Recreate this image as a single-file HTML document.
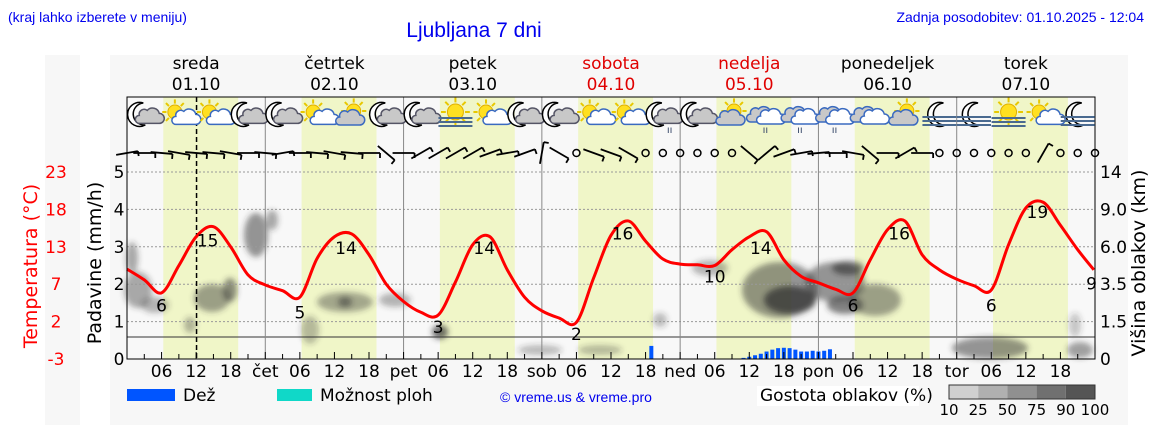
<!DOCTYPE html>
<html><head><meta charset="utf-8"><style>
body{margin:0;background:#fff;width:1152px;height:443px;overflow:hidden;font-family:"DejaVu Sans","Liberation Sans",sans-serif}
svg{display:block}
</style></head><body>
<svg id="c" width="1152" height="443" xmlns="http://www.w3.org/2000/svg">
<defs><filter id="bl" x="-50%" y="-50%" width="200%" height="200%"><feGaussianBlur stdDeviation="3"/></filter></defs>
<rect x="45" y="55" width="35" height="370" fill="#f7f7f7"/>
<rect x="110" y="55" width="1018" height="370" fill="#f7f7f7"/>
<text x="8" y="22" font-family="Liberation Sans" font-size="14" fill="#0000ee">(kraj lahko izberete v meniju)</text>
<text x="474" y="37" text-anchor="middle" font-family="Liberation Sans" font-size="21" fill="#0000ee">Ljubljana 7 dni</text>
<text x="1144" y="22" text-anchor="end" font-family="Liberation Sans" font-size="14" fill="#0000ee">Zadnja posodobitev: 01.10.2025 - 12:04</text>
<g id="g"></g>
</svg>
<script>
const dayNames=["sreda","četrtek","petek","sobota","nedelja","ponedeljek","torek"];
const dates=["01.10","02.10","03.10","04.10","05.10","06.10","07.10"];
const dayAbbr=["čet","pet","sob","ned","pon","tor"];
const tempHours=[0,3,6,9,12,15,18,21,24,27,30,33,36,39,42,45,48,51,54,57,60,63,66,69,72,75,78,81,84,87,90,93,96,99,102,105,108,111,114,117,120,123,126,129,132,135,138,141,144,147,150,153,156,159,162,165,167.8];
const tempValues=[9.5,8,6.2,10,14,15.4,12.6,8.7,7.3,6.5,5.6,11,14,14.4,11.5,7.4,5,3.5,3.1,7.7,12.9,14,9.4,5.6,3.7,2.7,2.1,8.3,14.2,16.2,13.4,10.9,10.2,10.1,10,12.2,14,14.7,10.8,8.5,7.6,6.7,6.2,10.8,15,16.2,11.5,9.4,8.1,7.2,6.6,12.9,18,18.8,15.6,12.2,9.4];
const tempLabelHours=[6,14,30,38,54,62,78,86,102,110,126,134,150,158,167.4];
const tempLabelValues=[6,15,5,14,3,14,2,16,10,14,6,16,6,19,9];
const tempLabelTexts=["6","15","5","14","3","14","2","16","10","14","6","16","6","19","9"];
const rainHours=[91,107,108,109,110,111,112,113,114,115,116,117,118,119,120,121,122];
const rainValues=[0.35,0.03,0.06,0.1,0.14,0.2,0.25,0.29,0.3,0.29,0.25,0.2,0.2,0.22,0.2,0.22,0.26];
const iconTypes=["nc","sc","sc","nc","nc","sc","sd","nc","nc","fs","sc","nc","nc","sc","sc","nr","nc","sd","cr","cr","cr","cl","sd","fn","fn","fs","sc","fn"];
const windSpeed=[1,2,2,2,2,2,2,2,2,2,2,2,2,2,2,2,2,2,3,3,3,3,2,2,1,2,0,2,2,2,0,0,0,0,0,0,2,2,2,2,2,2,2,2,2,2,2,0,0,0,0,0,0,1,0,0,0,0,0,0,0,0,0,0,0,0];
const windDir=[80,90,95,100,95,95,100,90,95,80,90,95,100,95,90,130,90,60,60,60,60,70,80,70,10,120,0,110,110,120,0,0,0,0,0,0,130,50,70,80,85,90,100,130,90,60,90,0,0,0,0,0,0,30,0,0,0,0,0,0,0,0,0,0,0,0];
const cloudBlobs=[[132,258,6,16,0.4],[138,290,14,18,0.4],[155,305,14,8,0.35],[212,298,18,14,0.45],[230,290,7,12,0.55],[190,325,6,8,0.35],[256,235,12,22,0.5],[272,220,6,10,0.4],[310,330,9,14,0.3],[345,302,28,10,0.4],[345,302,7,5,0.55],[395,300,16,7,0.35],[440,332,8,7,0.7],[710,268,18,8,0.35],[780,290,38,28,0.5],[790,300,26,14,0.75],[835,282,30,20,0.5],[848,268,16,7,0.65],[875,300,26,16,0.45],[845,305,18,9,0.6],[660,320,7,7,0.3],[990,348,38,11,0.5],[1080,350,13,8,0.45],[1075,325,6,12,0.25],[600,350,22,5,0.3],[540,350,22,5,0.3]];
const NS="http://www.w3.org/2000/svg";
const g=document.getElementById('g');
const X0=127,X1=1095,PX=(X1-X0)/168,YT=97,YB=359;
const xh=h=>X0+h*PX;
const yT=t=>YB-(t+3)*7.19;
const yP=p=>YB-p*37.4;
function el(t,a,p){const e=document.createElementNS(NS,t);for(const k in a)e.setAttribute(k,a[k]);(p||g).appendChild(e);return e;}
function tx(x,y,s,a,p){const e=el('text',Object.assign({x:x,y:y},a),p);e.textContent=s;return e;}
const bg=el('rect',{x:X0,y:YT,width:X1-X0,height:YB-YT,fill:'#f8f8f8'});


for(let d=0;d<7;d++){
 const b=el('rect',{x:xh(d*24+6.3),y:YT,width:13*PX,height:YB-YT,fill:'#f0f6c8'});
 
 
 const cx=xh(d*24+12);const col=(d==3||d==4)?'#e00000':'#000';
 const n=tx(cx,69,dayNames[d],{'text-anchor':'middle','font-size':17,fill:col});
 
 
 const dt=tx(cx,90,dates[d],{'text-anchor':'middle','font-size':17,fill:col});
 
 
}
const cg=el('g',{filter:'url(#bl)'});


cloudBlobs.forEach(c=>el('ellipse',{cx:c[0],cy:c[1],rx:c[2],ry:c[3],fill:'#333',opacity:c[4]},cg));
[1,2,3,4,5].forEach(v=>{const l=el('line',{x1:X0,x2:X1,y1:yP(v),y2:yP(v),stroke:'#999','stroke-dasharray':'2,2','stroke-width':1});
 
 });
el('line',{x1:X0,x2:X1,y1:337,y2:337,stroke:'#333','stroke-width':1});
for(let d=1;d<7;d++){const l=el('line',{x1:xh(d*24),x2:xh(d*24),y1:YT,y2:YB,stroke:'#888','stroke-width':1});
 
 }
const now=el('line',{x1:xh(12.07),x2:xh(12.07),y1:YT,y2:YB,stroke:'#000','stroke-width':1.5,'stroke-dasharray':'5,3'});


rainHours.forEach((h,i)=>{const r=el('rect',{x:xh(h)-2,y:yP(rainValues[i]),width:4,height:YB-yP(rainValues[i]),fill:'#0055ff'});
 
 });
const pts=tempHours.map((h,i)=>[xh(h),yT(tempValues[i])]);
let d='M'+pts[0][0]+','+pts[0][1];
for(let i=0;i<pts.length-1;i++){const p0=pts[i-1]||pts[i],p1=pts[i],p2=pts[i+1],p3=pts[i+2]||p2;
 d+=` C${p1[0]+(p2[0]-p0[0])/6},${p1[1]+(p2[1]-p0[1])/6} ${p2[0]-(p3[0]-p1[0])/6},${p2[1]-(p3[1]-p1[1])/6} ${p2[0]},${p2[1]}`;}
const tl=el('path',{d:d,fill:'none',stroke:'#ff0000','stroke-width':3});


tempLabelHours.forEach((h,i)=>{
 const t=tx(xh(h),yT(tempLabelValues[i])+17,tempLabelTexts[i],{'text-anchor':'middle','font-size':17,fill:'#000'});
 
 });
el('rect',{x:X0,y:YT,width:X1-X0,height:YB-YT,fill:'none',stroke:'#000','stroke-width':1});
for(let h=3;h<168;h+=3){el('line',{x1:xh(h),x2:xh(h),y1:YB,y2:YB-(h%6?5:7),stroke:'#000'});}
for(let dd=0;dd<7;dd++){[6,12,18].forEach(hh=>{const t=tx(xh(dd*24+hh),377,(hh<10?'0':'')+hh,{'text-anchor':'middle','font-size':17});
 
 });
 if(dd>0){const t=tx(xh(dd*24),377,dayAbbr[dd-1],{'text-anchor':'middle','font-size':17});
 
 }}
[0,1,2,3,4,5].forEach(v=>{const t=tx(119,yP(v)+6,String(v),{'text-anchor':'middle','font-size':17});
 
 });
["-3","2","7","13","18","23"].forEach((s,i)=>{const t=tx(56,YB-i*37.4+6,s,{'text-anchor':'middle','font-size':17,fill:'#f00'});
 
 });
["0","1.5","3.5","6.0","9.0","14"].forEach((s,i)=>{const t=tx(1100,YB-i*37.4+6,s,{'font-size':17});
 
 });
const t1=tx(0,0,'Temperatura (°C)',{'font-size':19,fill:'#f00','text-anchor':'middle',transform:'translate(37,266) rotate(-90)'});


const t2=tx(0,0,'Padavine (mm/h)',{'font-size':19,'text-anchor':'middle',transform:'translate(101,263) rotate(-90)'});


const t3=tx(0,0,'Višina oblakov (km)',{'font-size':19,'text-anchor':'middle',transform:'translate(1145,263) rotate(-90)'});


function sun(p,x,y,r){for(let k=0;k<8;k++){const a=k*Math.PI/4;el('line',{x1:x+Math.cos(a)*r*1.2,y1:y+Math.sin(a)*r*1.2,x2:x+Math.cos(a)*r*1.8,y2:y+Math.sin(a)*r*1.8,stroke:'#e8c800','stroke-width':2},p);}el('circle',{cx:x,cy:y,r:r,fill:'#ffe020',stroke:'#e0b000'},p);}
function moon(p,x,y){el('path',{d:`M${x+4},${y-12} A12,12 0 1,0 ${x+6},${y+10} A10,10 0 0,1 ${x+4},${y-12}Z`,fill:'#fff',stroke:'#000','stroke-width':1.5},p);}
function cloud(p,x,y,s,fill,st){el('path',{d:`M${x-10*s},${y+6*s} h${20*s} a5,5 0 0 0 0,-10 a7,7 0 0 0 -12,-3 a5,5 0 0 0 -8,5 a4,4 0 0 0 0,8z`,fill:fill,stroke:st,'stroke-width':1.5},p);}
function fog(p,x,y){[0,4,8].forEach(o=>el('line',{x1:x-17,x2:x+17,y1:y+o,y2:y+o,stroke:'#4a6a90','stroke-width':2},p));}
iconTypes.forEach((t,i)=>{const x=xh(i*6+3),y=115;const p=el('g',{});
 
 
 if(t[0]=='n'){moon(p,x-5,y);cloud(p,x+6,y+3,0.9,'#c8c8c8','#556');if(t=='nr'){el('text',{x:x+4,y:y+18,'font-size':10,fill:'#346'},p).textContent='ıı';}}
 else if(t=='sc'){sun(p,x-4,y-3,7);cloud(p,x+8,y+4,0.9,'#fff','#3a6ac0');}
 else if(t=='sd'){sun(p,x+2,y-4,7);cloud(p,x-2,y+4,1,'#c8c8c8','#3a6ac0');}
 else if(t=='cr'||t=='cl'){cloud(p,x-6,y+1,1,'#c8c8c8','#3a6ac0');cloud(p,x+4,y+3,1,'#fff','#3a6ac0');if(t=='cr'){el('text',{x:x-4,y:y+18,'font-size':10,fill:'#346'},p).textContent='ıı';}}
 else if(t=='fs'){sun(p,x,y-3,8);fog(p,x,y+3);}
 else if(t=='fn'){moon(p,x,y);fog(p,x,y+2);}
});
windSpeed.forEach((s,i)=>{const h=i*3;if(h>168)return;const x=xh(h),y=153;const p=el('g',{});
 
 
 if(s==0){el('circle',{cx:x,cy:y,r:3.5,fill:'none',stroke:'#000','stroke-width':1.5},p);return;}
 const a=windDir[i]*Math.PI/180,L=11,dx=Math.sin(a)*L,dy=-Math.cos(a)*L;
 el('line',{x1:x-dx,y1:y-dy,x2:x+dx,y2:y+dy,stroke:'#000','stroke-width':1.8},p);
 el('line',{x1:x+dx,y1:y+dy,x2:x+dx+Math.cos(a)*5,y2:y+dy+Math.sin(a)*5,stroke:'#000','stroke-width':1.8},p);
});
const lg=el('g',{});


el('rect',{x:127,y:389,width:48,height:12,fill:'#0055ff'},lg);
tx(183,401,'Dež',{'font-size':17},lg);
el('rect',{x:277,y:389,width:35,height:12,fill:'#10d8c8'},lg);
tx(320,401,'Možnost ploh',{'font-size':17},lg);
const cp=tx(500,402,'© vreme.us & vreme.pro',{'font-size':14,fill:'#0000ee','font-family':'Liberation Sans'},lg);


el('rect',{x:757,y:386,width:162,height:20,fill:'#fff'},lg);
tx(760,401,'Gostota oblakov (%)',{'font-size':17},lg);
['#d0d0d0','#b0b0b0','#909090','#707070','#555'].forEach((c,i)=>el('rect',{x:949+i*29.2,y:385,width:29.2,height:14,fill:c},lg));
el('rect',{x:949,y:385,width:146,height:14,fill:'none',stroke:'#333'},lg);
['10','25','50','75','90','100'].forEach((s,i)=>tx(949+i*29.2,415,s,{'text-anchor':'middle','font-size':15},lg));
</script>
</body></html>
